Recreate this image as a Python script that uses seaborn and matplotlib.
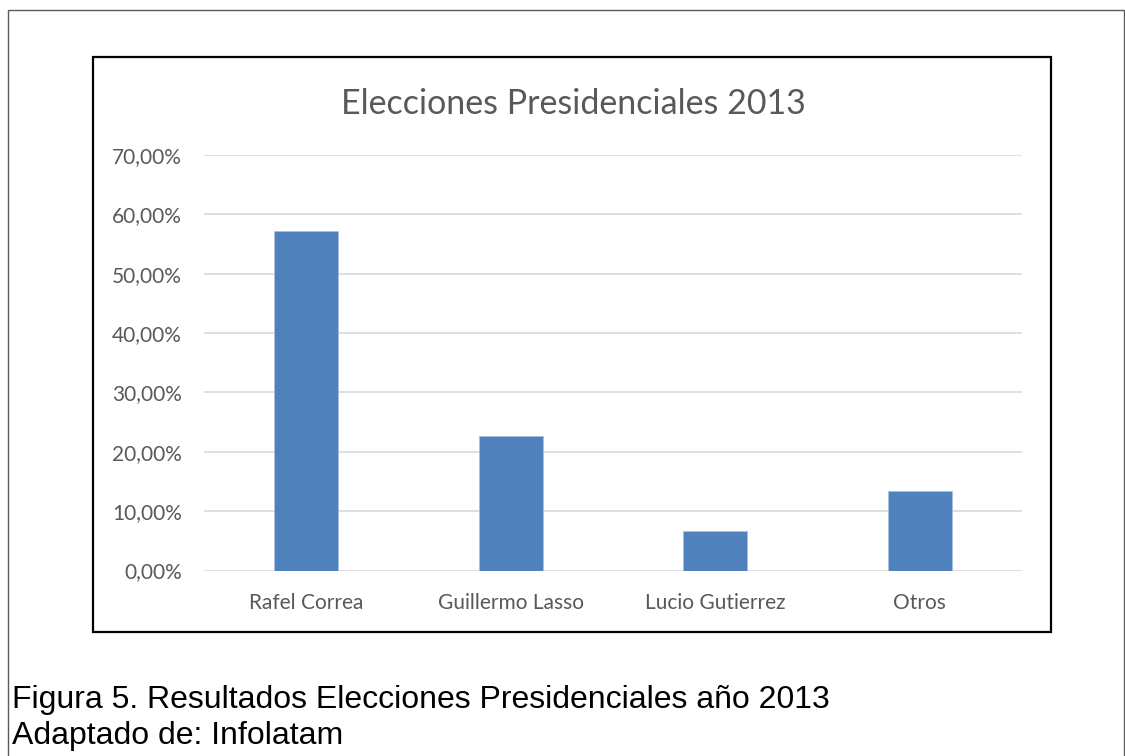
import matplotlib
matplotlib.use("Agg")
import matplotlib.pyplot as plt
import matplotlib.patches as mpatches
from matplotlib.ticker import FuncFormatter
import pandas as pd
import seaborn as sns

candidatos = ["Rafel Correa", "Guillermo Lasso", "Lucio Gutierrez", "Otros"]
votos = [0.5717, 0.2268, 0.0673, 0.1342]

df = pd.DataFrame({"candidato": candidatos, "votos": votos})

sns.set_theme(style="white")
plt.rcParams["font.family"] = ["Lato", "DejaVu Sans"]

W, H = 1125, 756
fig = plt.figure(figsize=(W / 100, H / 100), dpi=100)

# outer page frame and inner chart frame (pixel coords -> figure fraction)
def frame(x0, y0, x1, y1, **kw):
    fig.patches.append(mpatches.Rectangle((x0 / W, 1 - y1 / H), (x1 - x0) / W, (y1 - y0) / H,
                                          transform=fig.transFigure, fill=False, **kw))

frame(8, 10, 1124, 760, edgecolor="#5a5a5a", linewidth=1.0)
frame(93, 57, 1051, 632, edgecolor="black", linewidth=1.6)

ax = fig.add_axes([204 / W, 1 - 570.5 / H, 818 / W, 415.5 / H])
sns.barplot(data=df, x="candidato", y="votos", color="#4f81bd", width=0.313,
            saturation=1, edgecolor="#a9c0df", linewidth=0.6, ax=ax, zorder=3)

ax.set_xlim(-0.5, 3.5)
ax.set_ylim(0, 0.70)
ax.set_yticks([i / 10 for i in range(8)])
ax.yaxis.set_major_formatter(FuncFormatter(lambda v, p: f"{v * 100:.2f}%".replace(".", ",")))
ax.grid(axis="y", color="#d9d9d9", linewidth=1.2, zorder=0)
for s in ax.spines.values():
    s.set_visible(False)
ax.tick_params(axis="both", length=0, labelsize=15, labelcolor="#595959")
ax.tick_params(axis="y", pad=16)
ax.tick_params(axis="x", pad=16)
ax.set_xlabel("")
ax.set_ylabel("")

fig.text(573 / W, 1 - 104 / H, "Elecciones Presidenciales 2013", ha="center", va="center",
         fontsize=24.5, color="#595959")

fig.text(12 / W, 1 - 700 / H, "Figura 5. Resultados Elecciones Presidenciales año 2013",
         ha="left", va="center", fontsize=23, color="black", family="Liberation Sans")
fig.text(12 / W, 1 - 736 / H, "Adaptado de: Infolatam",
         ha="left", va="center", fontsize=23, color="black", family="Liberation Sans")

fig.savefig("out.png", dpi=100, facecolor="white")
